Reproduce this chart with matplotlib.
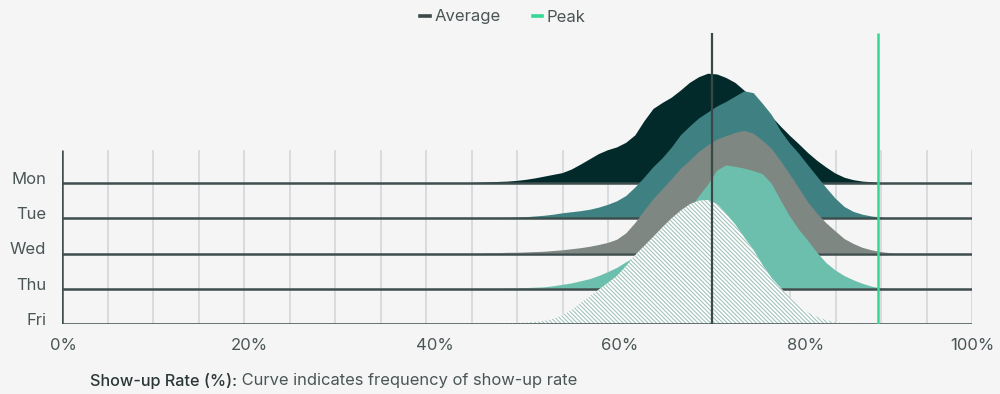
import matplotlib
matplotlib.use("Agg")
import matplotlib.pyplot as plt
from matplotlib.lines import Line2D
from matplotlib.transforms import ScaledTranslation

plt.rcParams['font.family'] = ['Inter', 'DejaVu Sans']
plt.rcParams['hatch.linewidth'] = 0.8

# ---------------- data ----------------
days = ["Mon", "Tue", "Wed", "Thu", "Fri"]
rate_pct = [45, 46, 47, 48, 49, 50, 51, 52, 53, 54, 55, 56, 57, 58, 59, 60, 61, 62, 63, 64,
            65, 66, 67, 68, 69, 70, 71, 72, 73, 74, 75, 76, 77, 78, 79, 80, 81, 82, 83, 84,
            85, 86, 87, 88, 89, 90, 91, 92]
mon_density = [0.0, 0.01, 0.02, 0.03, 0.04, 0.06, 0.09, 0.13, 0.18, 0.23, 0.28, 0.38, 0.52, 0.67, 0.82, 0.93,
               1.01, 1.14, 1.35, 1.75, 2.1, 2.27, 2.42, 2.62, 2.84, 3.0, 3.1, 3.08, 2.98, 2.84, 2.62, 2.4,
               2.14, 1.88, 1.6, 1.34, 1.1, 0.85, 0.63, 0.44, 0.27, 0.15, 0.08, 0.04, 0.02, 0, 0, 0]
tue_density = [0, 0, 0, 0.01, 0.01, 0.02, 0.03, 0.05, 0.07, 0.1, 0.14, 0.17, 0.2, 0.24, 0.3, 0.38,
               0.48, 0.63, 0.87, 1.15, 1.45, 1.7, 2.0, 2.35, 2.6, 2.83, 3.0, 3.17, 3.3, 3.45, 3.6, 3.55,
               3.25, 2.93, 2.47, 2.12, 1.83, 1.5, 1.18, 0.86, 0.56, 0.32, 0.18, 0.1, 0.05, 0.02, 0, 0]
wed_density = [0, 0, 0.01, 0.01, 0.02, 0.02, 0.03, 0.04, 0.05, 0.07, 0.09, 0.12, 0.15, 0.19, 0.24, 0.3,
               0.39, 0.57, 0.86, 1.21, 1.54, 1.82, 2.1, 2.4, 2.63, 2.88, 3.07, 3.23, 3.33, 3.42, 3.48, 3.4,
               3.2, 2.97, 2.62, 2.24, 1.85, 1.45, 1.13, 0.86, 0.63, 0.41, 0.27, 0.16, 0.09, 0.04, 0.01, 0]
thu_density = [0, 0, 0, 0, 0.01, 0.01, 0.02, 0.03, 0.04, 0.07, 0.11, 0.15, 0.21, 0.27, 0.36, 0.47,
               0.59, 0.75, 0.9, 1.05, 1.25, 1.45, 1.7, 1.95, 2.25, 2.62, 2.95, 3.35, 3.5, 3.46, 3.41, 3.34,
               3.25, 2.98, 2.5, 2.05, 1.67, 1.36, 1.02, 0.73, 0.52, 0.36, 0.24, 0.14, 0.06, 0.01, 0, 0]
fri_density = [0, 0, 0.01, 0.01, 0.02, 0.03, 0.04, 0.06, 0.09, 0.15, 0.25, 0.4, 0.6, 0.79, 0.98, 1.17,
               1.37, 1.65, 1.96, 2.22, 2.48, 2.75, 3.0, 3.22, 3.4, 3.5, 3.52, 3.4, 3.12, 2.82, 2.45, 2.1,
               1.67, 1.3, 1.02, 0.75, 0.5, 0.32, 0.2, 0.11, 0.05, 0.02, 0.01, 0, 0, 0, 0, 0]
densities = [mon_density, tue_density, wed_density, thu_density, fri_density]
average_rate = 71.4
peak_rate = 89.7
x_ticks = [0, 20, 40, 60, 80, 100]
x_tick_labels = ["0%", "20%", "40%", "60%", "80%", "100%"]

# ---------------- style ----------------
BG = "#f5f5f5"
fills = ["#032a2b", "#3f8182", "#7e8782", "#6cbfac", "#ffffff"]
BASE = "#3e4d4d"
TEXT = "#4a5555"
GRID = "#d3d7da"
AVG = "#3b4848"
PEAK = "#35d893"
HATCH = "#a3c2bb"

W, H = 1000, 394
fig = plt.figure(figsize=(W / 100, H / 100), dpi=100, facecolor=BG)
row_px = 35.25
x0, x1 = 62, 972
y_bottom, y_top = 324, 33
ax = fig.add_axes([x0 / W, (H - y_bottom) / H, (x1 - x0) / W, (y_bottom - y_top) / H])
ax.set_facecolor(BG)
ax.set_xlim(0, 100)
ax.set_ylim(0, (y_bottom - y_top) / row_px)
for s in ax.spines.values():
    s.set_visible(False)

n = len(days)
grid_top = (y_bottom - 150) / row_px
ax.vlines([5 * k for k in range(1, 21)], 0, grid_top, color=GRID, lw=1.2, zorder=1)
ax.vlines(0, 0, grid_top, color=BASE, lw=1.8, zorder=12)

for i, (day, dens) in enumerate(zip(days, densities)):
    base = n - 1 - i
    z = 2 + i
    top = [base + d for d in dens]
    if day == "Fri":
        ax.fill_between(rate_pct, base, top, facecolor=fills[i], edgecolor=HATCH,
                        hatch="\\" * 8, linewidth=0, zorder=z)
    else:
        ax.fill_between(rate_pct, base, top, facecolor=fills[i], linewidth=0, zorder=z)
    ax.hlines(base, 0, 100, color=BASE, lw=1.8, zorder=z + 0.5)

ylim_top = ax.get_ylim()[1]
ax.vlines(average_rate, 0, ylim_top, color=AVG, lw=1.6, zorder=20)
ax.vlines(peak_rate, 0, ylim_top, color=PEAK, lw=1.8, zorder=20)

# y labels
ax.set_yticks([n - 1 - i for i in range(n)])
ax.set_yticklabels(days, fontsize=12, color=TEXT)
ax.tick_params(axis="y", length=0, pad=11.5)
for lab in ax.get_yticklabels():
    lab.set_transform(lab.get_transform() + ScaledTranslation(0, 5 / 100, fig.dpi_scale_trans))

# x labels
ax.set_xticks(x_ticks)
ax.set_xticklabels(x_tick_labels, fontsize=12, color=TEXT)
ax.tick_params(axis="x", length=0, pad=10)
x_shift_px = [1, 5, 9, 12, 16, 0]
for lab, dx in zip(ax.get_xticklabels(), x_shift_px):
    lab.set_transform(lab.get_transform() + ScaledTranslation(dx / 100, 0, fig.dpi_scale_trans))

# legend
handles = [Line2D([], [], color=AVG, lw=2.6), Line2D([], [], color=PEAK, lw=2.6)]
fig.legend(handles, ["Average", "Peak"], loc="center", bbox_to_anchor=(0.503, 1 - 17 / H),
           ncol=2, frameon=False, handlelength=0.55, handletextpad=0.3, columnspacing=1.9,
           fontsize=12, labelcolor=TEXT)

# caption
t1 = fig.text(90 / W, 1 - 381 / H, "Show-up Rate (%):", fontsize=11.7, color="#2b3636",
              fontweight=500, va="center", ha="left")
fig.canvas.draw()
ax.annotate(" Curve indicates frequency of show-up rate", xy=(1, 0.5), xycoords=t1,
            va="center", ha="left", fontsize=11.9, color=TEXT, annotation_clip=False)

fig.savefig("out.png", dpi=100, facecolor=BG)
